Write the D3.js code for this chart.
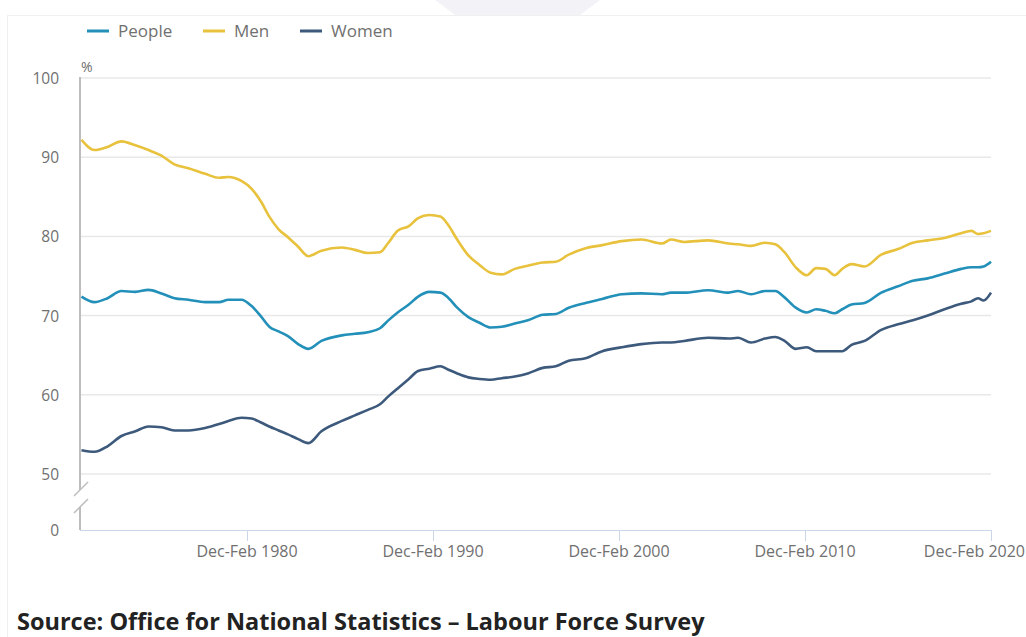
<!DOCTYPE html>
<html>
<head>
<meta charset="utf-8">
<script src="https://cdn.jsdelivr.net/npm/d3@7"></script>
<style>
  body { margin: 0; background: #fff; font-family: "Open Sans", sans-serif; overflow: hidden; }
</style>
</head>
<body>
<div id="chart"></div>
<script>
// sample dates (decimal years)
const years = [1971.1, 1971.8, 1972.5, 1973.25, 1974.0, 1974.7, 1975.4, 1976.1, 1976.85, 1977.75,
  1978.5, 1979.0, 1979.7, 1980.25, 1980.75, 1981.2, 1981.7, 1982.2, 1982.75, 1983.3,
  1984.0, 1985.1, 1985.8, 1986.5, 1987.15, 1987.6, 1988.1, 1988.7, 1989.2, 1989.8,
  1990.4, 1990.8, 1991.3, 1991.9, 1992.5, 1993.1, 1993.7, 1994.4, 1995.1, 1995.9,
  1996.6, 1997.3, 1998.2, 1999.1, 2000.15, 2001.2, 2002.3, 2002.8, 2003.5, 2004.8,
  2005.9, 2006.4, 2007.1, 2007.85, 2008.4, 2008.9, 2009.5, 2010.1, 2010.6, 2011.1,
  2011.6, 2012.0, 2012.5, 2013.2, 2014.1, 2015.0, 2015.8, 2016.6, 2017.5, 2018.4,
  2018.95, 2019.3, 2019.6, 2020.0];

const people = [72.4, 71.7, 72.2, 73.1, 73.0, 73.25, 72.8, 72.2, 72.0, 71.7,
  71.7, 72.0, 72.0, 71.2, 69.9, 68.6, 68.0, 67.4, 66.4, 65.8,
  66.8, 67.5, 67.7, 67.9, 68.4, 69.4, 70.4, 71.4, 72.4, 73.0,
  72.9, 72.3, 71.0, 69.8, 69.1, 68.5, 68.6, 69.0, 69.4, 70.1,
  70.2, 71.0, 71.6, 72.1, 72.7, 72.8, 72.7, 72.9, 72.9, 73.2,
  72.9, 73.1, 72.7, 73.1, 73.1, 72.3, 71.0, 70.4, 70.8, 70.6,
  70.3, 70.8, 71.4, 71.6, 72.9, 73.7, 74.4, 74.7, 75.3, 75.9,
  76.1, 76.1, 76.2, 76.8];

const men = [92.2, 90.9, 91.3, 92.0, 91.5, 90.9, 90.2, 89.1, 88.6, 87.9,
  87.4, 87.5, 87.0, 86.0, 84.4, 82.5, 80.9, 79.9, 78.7, 77.5,
  78.2, 78.6, 78.3, 77.9, 78.0, 79.2, 80.7, 81.3, 82.3, 82.7,
  82.5, 81.5, 79.6, 77.6, 76.4, 75.4, 75.2, 75.9, 76.3, 76.7,
  76.8, 77.7, 78.5, 78.9, 79.4, 79.6, 79.1, 79.6, 79.3, 79.5,
  79.1, 79.0, 78.8, 79.2, 79.0, 78.0, 76.1, 75.1, 76.0, 75.9,
  75.1, 75.9, 76.5, 76.2, 77.7, 78.4, 79.2, 79.5, 79.8, 80.4,
  80.7, 80.3, 80.4, 80.7];

const women = [53.0, 52.8, 53.5, 54.8, 55.4, 56.0, 55.9, 55.5, 55.5, 55.8,
  56.3, 56.7, 57.1, 57.0, 56.5, 56.0, 55.5, 55.0, 54.4, 53.9,
  55.4, 56.7, 57.4, 58.1, 58.8, 59.8, 60.8, 62.0, 63.0, 63.3,
  63.6, 63.2, 62.7, 62.2, 62.0, 61.9, 62.1, 62.3, 62.7, 63.4,
  63.6, 64.3, 64.6, 65.5, 66.0, 66.4, 66.6, 66.6, 66.8, 67.2,
  67.1, 67.2, 66.6, 67.1, 67.3, 66.8, 65.8, 66.0, 65.5, 65.5,
  65.5, 65.5, 66.3, 66.8, 68.2, 68.9, 69.4, 70.0, 70.8, 71.5,
  71.8, 72.2, 71.9, 72.9];

const seriesNames = ["People", "Men", "Women"];
const seriesColors = ["#2390b9", "#e8c23c", "#3d5a7c"];
const yTicks = [0, 50, 60, 70, 80, 90, 100];
const xTicks = [1980, 1990, 2000, 2010, 2020];
const xTickLabels = ["Dec-Feb 1980", "Dec-Feb 1990", "Dec-Feb 2000", "Dec-Feb 2010", "Dec-Feb 2020"];

const width = 1026, height = 637;
const svg = d3.select("#chart").append("svg")
  .attr("width", width)
  .attr("height", height)
  .style("display", "block")
  .style("font-family", "'Open Sans', sans-serif");

// faint page decoration and card border
svg.append("path")
  .attr("d", "M435,0 L600,0 L580,15 L455,15 Z")
  .attr("fill", "#f3f2f7");
svg.append("rect")
  .attr("x", 7.5).attr("y", 15.5)
  .attr("width", 1030).attr("height", 640)
  .attr("fill", "none")
  .attr("stroke", "#f0f0f0");

const plotLeft = 80, plotRight = 991;

// x is a linear scale over decimal years (tick "Dec-Feb YYYY" sits at YYYY.0)
const x = d3.scaleLinear().domain([1980, 2020]).range([247, 991]);
// broken y axis: 0 .. 50 squeezed, 50 .. 100 regular
const y = d3.scaleLinear().domain([0, 50, 100]).range([530, 474, 78]);

// gridlines
svg.append("g")
  .selectAll("line")
  .data(yTicks.filter(d => d > 0))
  .join("line")
  .attr("x1", plotLeft).attr("x2", plotRight)
  .attr("y1", d => y(d)).attr("y2", d => y(d))
  .attr("stroke", "#e8e8e8")
  .attr("stroke-width", 1.5);

// y labels
svg.append("g")
  .selectAll("text")
  .data(yTicks)
  .join("text")
  .attr("x", 59)
  .attr("y", d => y(d) + 6)
  .attr("text-anchor", "end")
  .attr("fill", "#707070")
  .style("font-size", "15.5px")
  .text(d => d);

svg.append("text")
  .attr("x", 81).attr("y", 72)
  .attr("fill", "#707070")
  .style("font-size", "14px")
  .text("%");

// x axis line + ticks
svg.append("line")
  .attr("x1", plotLeft).attr("x2", plotRight)
  .attr("y1", 530.5).attr("y2", 530.5)
  .attr("stroke", "#ccd6eb");

const xg = svg.append("g");
xg.selectAll("line")
  .data(xTicks)
  .join("line")
  .attr("x1", d => x(d) + 0.5).attr("x2", d => x(d) + 0.5)
  .attr("y1", 530).attr("y2", 541)
  .attr("stroke", "#ccd6eb");
// last label is pushed inside the page edge, like the original
xg.selectAll("text")
  .data(xTicks)
  .join("text")
  .attr("x", (d, i) => i === xTicks.length - 1 ? width - 1 : x(d))
  .attr("y", 557)
  .attr("text-anchor", (d, i) => i === xTicks.length - 1 ? "end" : "middle")
  .attr("fill", "#707070")
  .style("font-size", "16px")
  .text((d, i) => xTickLabels[i]);

// y axis line with break
const axisColor = "#bdbdbd";
svg.append("line")
  .attr("x1", 80).attr("x2", 80)
  .attr("y1", 77).attr("y2", 490)
  .attr("stroke", axisColor).attr("stroke-width", 2);
svg.append("line")
  .attr("x1", 80).attr("x2", 80)
  .attr("y1", 507).attr("y2", 530)
  .attr("stroke", axisColor).attr("stroke-width", 2);
[489, 506].forEach(by => {
  svg.append("line")
    .attr("x1", 74).attr("y1", by + 7)
    .attr("x2", 88).attr("y2", by - 7)
    .attr("stroke", axisColor).attr("stroke-width", 1.5);
});

// lines
const allSeries = [people, men, women];
const line = d3.line()
  .x((d, i) => x(years[i]))
  .y(d => y(d))
  .curve(d3.curveMonotoneX);

svg.append("g")
  .selectAll("path")
  .data(allSeries)
  .join("path")
  .attr("d", d => line(d))
  .attr("fill", "none")
  .attr("stroke", (d, i) => seriesColors[i])
  .attr("stroke-width", 2.6)
  .attr("stroke-linejoin", "round");

// legend
const legendX = [87, 203, 300];
const legend = svg.append("g");
seriesNames.forEach((name, i) => {
  legend.append("line")
    .attr("x1", legendX[i]).attr("x2", legendX[i] + 22)
    .attr("y1", 31).attr("y2", 31)
    .attr("stroke", seriesColors[i])
    .attr("stroke-width", 3);
  legend.append("text")
    .attr("x", legendX[i] + 31)
    .attr("y", 37)
    .attr("fill", "#707070")
    .style("font-size", "17px")
    .text(name);
});

// source
svg.append("text")
  .attr("x", 17).attr("y", 630)
  .attr("fill", "#222")
  .style("font-size", "23.5px")
  .style("font-weight", "bold")
  .text("Source: Office for National Statistics \u2013 Labour Force Survey");
</script>
</body>
</html>
